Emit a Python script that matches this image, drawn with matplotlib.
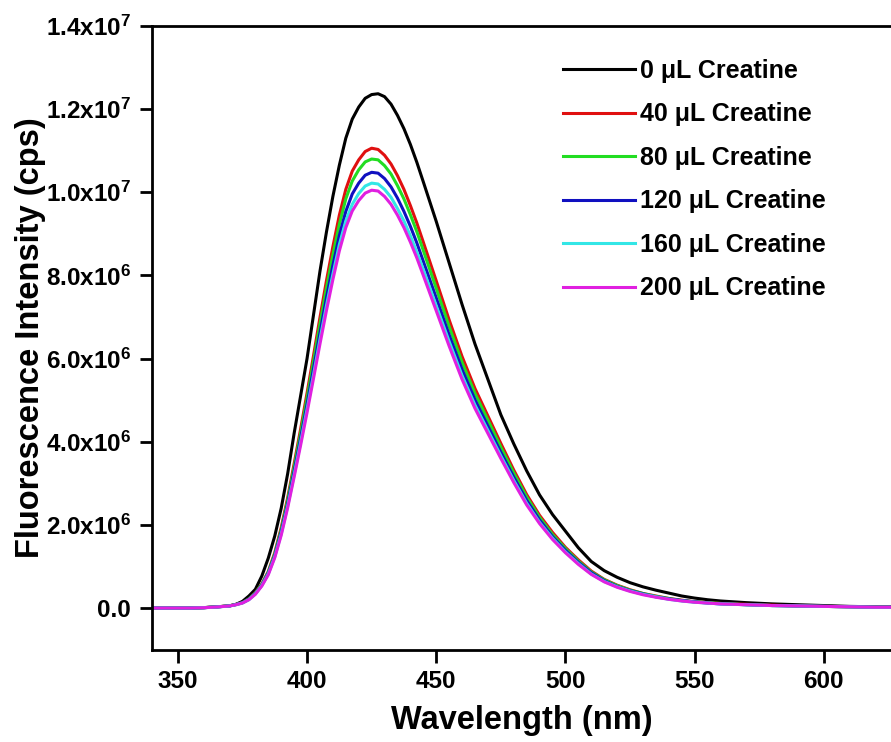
import numpy as np
import matplotlib
matplotlib.use("Agg")
import matplotlib.pyplot as plt

plt.rcParams['font.family'] = ['Liberation Sans', 'DejaVu Sans']
plt.rcParams['font.weight'] = 'bold'
plt.rcParams['mathtext.fontset'] = 'custom'
plt.rcParams['mathtext.default'] = 'bf'
plt.rcParams['mathtext.bf'] = 'Liberation Sans:bold'
plt.rcParams['mathtext.rm'] = 'Liberation Sans:bold'

# emission spectra, intensity in units of 1e6 cps
wavelength = [340, 345, 350, 355, 360, 365, 370, 372.5, 375, 377.5, 380, 382.5, 385, 387.5,
              390, 392.5, 395, 397.5, 400, 402.5, 405, 407.5, 410, 412.5, 415, 417.5, 420,
              422.5, 425, 427.5, 430, 432.5, 435, 437.5, 440, 442.5, 445, 450, 455, 460, 465,
              470, 475, 480, 485, 490, 495, 500, 505, 510, 515, 520, 525, 530, 535, 540,
              545, 550, 555, 560, 570, 580, 590, 600, 610, 620, 626]

int_0 = [0, 0, 0, 0, 0.01, 0.03, 0.05, 0.09, 0.16, 0.29, 0.45, 0.77, 1.2, 1.73,
         2.4, 3.23, 4.2, 5.1, 6.0, 7.05, 8.1, 9.04, 9.9, 10.65, 11.3, 11.76, 12.05,
         12.26, 12.35, 12.37, 12.3, 12.12, 11.85, 11.53, 11.15, 10.72, 10.25, 9.3, 8.3, 7.3, 6.35,
         5.5, 4.65, 3.95, 3.3, 2.72, 2.25, 1.85, 1.45, 1.12, 0.9, 0.74, 0.61, 0.51, 0.43, 0.36,
         0.29, 0.24, 0.2, 0.17, 0.13, 0.1, 0.08, 0.06, 0.04, 0.03, 0.03]
int_40 = [0, 0, 0, 0, 0.009, 0.028, 0.055, 0.088, 0.13, 0.22, 0.37, 0.58, 0.88, 1.33,
          1.93, 2.65, 3.47, 4.3, 5.17, 6.07, 6.99, 7.87, 8.69, 9.45, 10.07, 10.51, 10.78,
          10.98, 11.06, 11.03, 10.89, 10.68, 10.4, 10.07, 9.68, 9.26, 8.8, 7.87, 6.93, 6.05, 5.28,
          4.62, 3.96, 3.32, 2.73, 2.23, 1.82, 1.46, 1.16, 0.89, 0.69, 0.55, 0.44, 0.35, 0.29, 0.23,
          0.19, 0.15, 0.13, 0.11, 0.09, 0.07, 0.05, 0.04, 0.03, 0.02, 0.02]
int_80 = [0, 0, 0, 0, 0.009, 0.027, 0.054, 0.086, 0.13, 0.22, 0.36, 0.57, 0.86, 1.3,
          1.88, 2.59, 3.39, 4.2, 5.05, 5.93, 6.83, 7.69, 8.49, 9.23, 9.84, 10.27, 10.54,
          10.73, 10.8, 10.78, 10.64, 10.44, 10.16, 9.84, 9.46, 9.05, 8.6, 7.69, 6.77, 5.91, 5.16,
          4.52, 3.87, 3.25, 2.67, 2.18, 1.77, 1.43, 1.13, 0.87, 0.68, 0.54, 0.43, 0.35, 0.28, 0.23,
          0.18, 0.15, 0.13, 0.11, 0.08, 0.06, 0.05, 0.04, 0.03, 0.02, 0.02]
int_120 = [0, 0, 0, 0, 0.008, 0.026, 0.052, 0.083, 0.13, 0.21, 0.35, 0.55, 0.84, 1.26,
           1.83, 2.51, 3.29, 4.08, 4.9, 5.76, 6.62, 7.46, 8.24, 8.96, 9.54, 9.96, 10.22,
           10.41, 10.48, 10.46, 10.33, 10.13, 9.86, 9.54, 9.18, 8.78, 8.34, 7.46, 6.57, 5.74, 5.01,
           4.38, 3.75, 3.15, 2.59, 2.12, 1.72, 1.39, 1.1, 0.85, 0.66, 0.52, 0.42, 0.34, 0.27, 0.22,
           0.18, 0.15, 0.12, 0.1, 0.08, 0.06, 0.05, 0.04, 0.03, 0.02, 0.02]
int_160 = [0, 0, 0, 0, 0.008, 0.025, 0.05, 0.08, 0.12, 0.2, 0.34, 0.54, 0.82, 1.23,
           1.78, 2.45, 3.2, 3.98, 4.78, 5.61, 6.46, 7.27, 8.03, 8.74, 9.31, 9.71, 9.97,
           10.15, 10.22, 10.2, 10.07, 9.88, 9.61, 9.31, 8.95, 8.56, 8.14, 7.27, 6.41, 5.59, 4.88,
           4.27, 3.66, 3.07, 2.52, 2.06, 1.68, 1.35, 1.07, 0.82, 0.64, 0.51, 0.41, 0.33, 0.27, 0.21,
           0.17, 0.14, 0.12, 0.1, 0.08, 0.06, 0.05, 0.04, 0.03, 0.02, 0.02]
int_200 = [0, 0, 0, 0, 0.008, 0.025, 0.05, 0.08, 0.12, 0.2, 0.33, 0.53, 0.8, 1.21,
           1.75, 2.41, 3.15, 3.91, 4.7, 5.52, 6.35, 7.15, 7.9, 8.59, 9.15, 9.55, 9.8,
           9.98, 10.05, 10.03, 9.9, 9.71, 9.45, 9.15, 8.8, 8.42, 8.0, 7.15, 6.3, 5.5, 4.8,
           4.2, 3.6, 3.02, 2.48, 2.03, 1.65, 1.33, 1.05, 0.81, 0.63, 0.5, 0.4, 0.32, 0.26, 0.21,
           0.17, 0.14, 0.12, 0.1, 0.08, 0.06, 0.05, 0.04, 0.03, 0.02, 0.02]

labels = ['0 \u03bcL Creatine', '40 \u03bcL Creatine', '80 \u03bcL Creatine',
          '120 \u03bcL Creatine', '160 \u03bcL Creatine', '200 \u03bcL Creatine']
colors = ['black', '#e01010', '#22dd22', '#1010c0', '#33e6e6', '#e020e0']

y_ticks = [0, 2e6, 4e6, 6e6, 8e6, 1e7, 1.2e7, 1.4e7]
y_ticklabels = ['0.0', '2.0x10$^{6}$', '4.0x10$^{6}$', '6.0x10$^{6}$', '8.0x10$^{6}$',
                '1.0x10$^{7}$', '1.2x10$^{7}$', '1.4x10$^{7}$']
x_ticks = [350, 400, 450, 500, 550, 600]

fig = plt.figure(figsize=(8.91, 7.42), dpi=100)
ax = fig.add_axes([0.1706, 0.1245, 0.8294, 0.8405])

series = [int_0, int_40, int_80, int_120, int_160, int_200]
wl = np.array(wavelength)
for vals, lab, col in zip(series, labels, colors):
    ax.plot(wl, np.array(vals) * 1e6, color=col, lw=2.2, label=lab)

ax.set_xlim(340, 626)
ax.set_ylim(-1e6, 1.4e7)
ax.set_xticks(x_ticks)
ax.set_yticks(y_ticks)
ax.set_yticklabels(y_ticklabels)

for side in ['left', 'bottom', 'top']:
    ax.spines[side].set_linewidth(2.0)
ax.spines['right'].set_visible(False)
ax.tick_params(axis='both', direction='out', length=9, width=2.0, labelsize=17.5, pad=6)
ax.tick_params(top=False, right=False)

ax.set_xlabel('Wavelength (nm)', fontsize=23.5, fontweight='bold', labelpad=8)
ax.set_ylabel('Fluorescence Intensity (cps)', fontsize=23.5, fontweight='bold', labelpad=0)

leg = ax.legend(loc='upper left', bbox_to_anchor=(0.632, 0.9205),
                bbox_transform=fig.transFigure, frameon=False, fontsize=18,
                handlelength=2.88, handletextpad=0.2, labelspacing=0.78,
                borderpad=0, borderaxespad=0)
for line in leg.get_lines():
    line.set_linewidth(2.2)

fig.savefig('out.png', dpi=100)
